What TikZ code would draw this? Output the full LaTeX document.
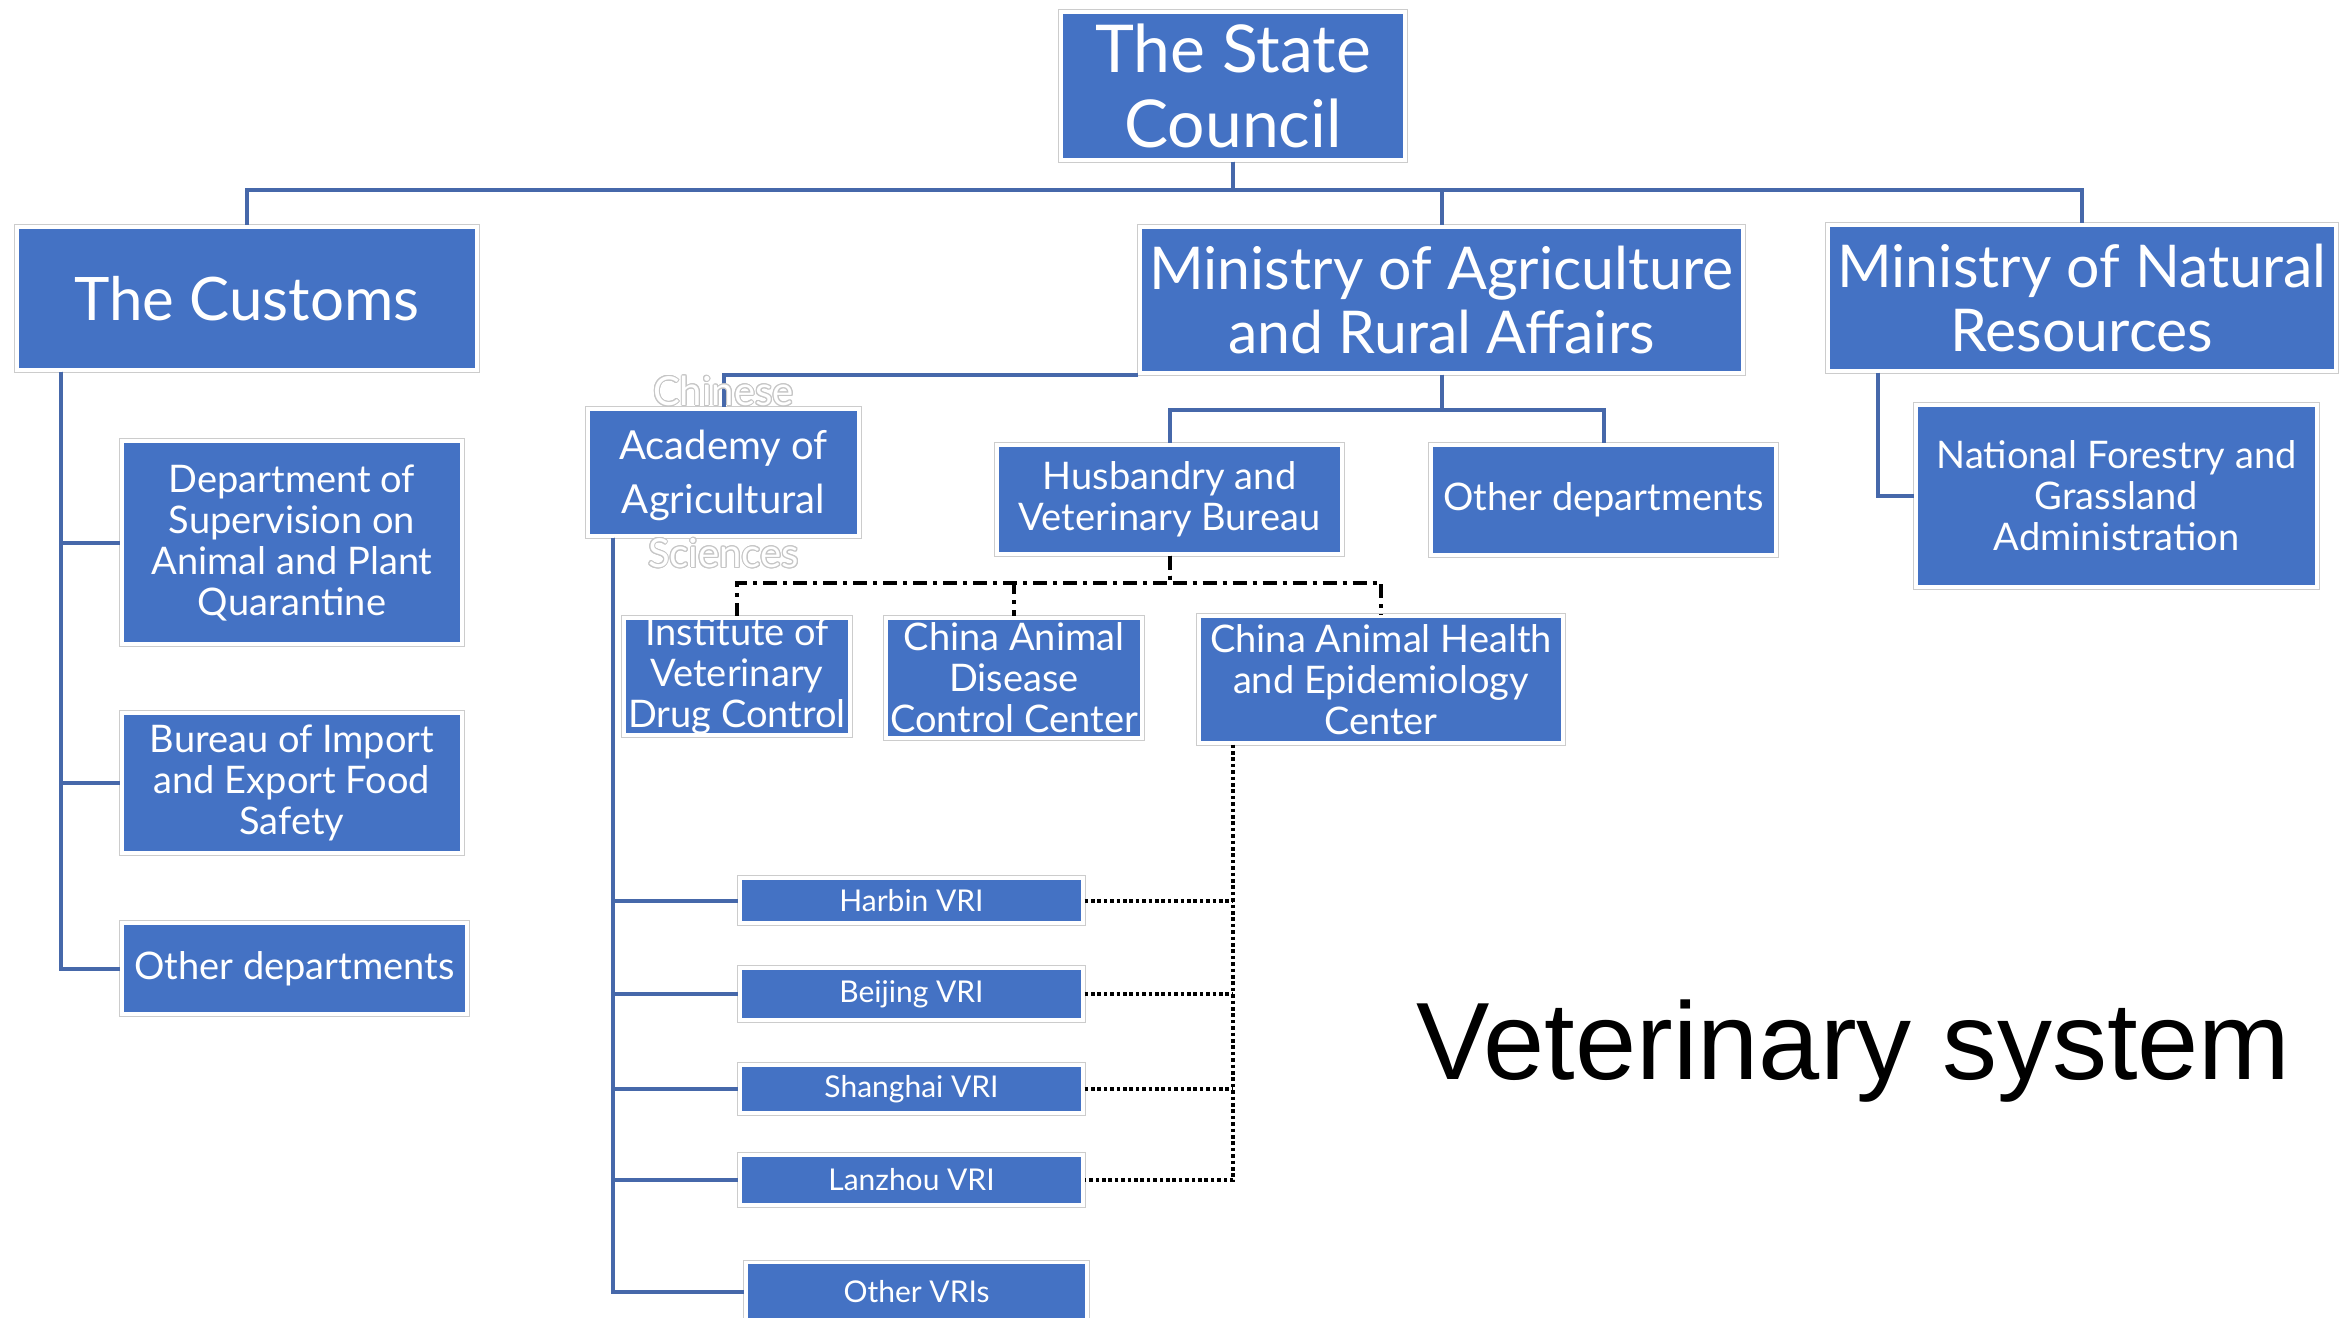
\documentclass[tikz,border=0pt]{standalone}
\usepackage{fontspec}
\setmainfont{Lato}
\newfontfamily\titlefont{Liberation Sans}
\usepackage{contour}
\contourlength{0.5pt}
\usetikzlibrary{positioning,calc}

\definecolor{boxblue}{RGB}{68,114,196}
\definecolor{lineblue}{RGB}{70,104,170}

\tikzset{
	sz/.style 2 args={minimum width=#1*0.5pt, minimum height=#2*0.5pt}
}

\begin{document}
\begin{tikzpicture}[
	x=0.5pt, y=-0.5pt,
	box/.style={rectangle, fill=boxblue, text=white, align=center, inner sep=0,
		preaction={draw=gray!40, line width=3pt},
		draw=white, line width=1.6pt},
	bigtxt/.style={font=\fontsize{29.5}{32}\selectfont},
	midtxt/.style={font=\fontsize{19}{20.5}\selectfont},
	vritxt/.style={font=\fontsize{15}{17}\selectfont},
	orgline/.style={draw=lineblue, line width=2pt},
	dashdotline/.style={draw=black, line width=2pt, dash pattern=on 7pt off 3pt on 2pt off 3pt},
	dotline/.style={draw=black, line width=2pt, dash pattern=on 1.8pt off 1.4pt}
]
	\useasboundingbox (0,0) rectangle (2349,1317);

	% top level
	\node[box,sz={344}{148},font=\fontsize{33}{37.5}\selectfont] (state) at (1233,86) {The State\\Council};
	\node[box,sz={460}{143},font=\fontsize{30}{37}\selectfont] (customs) at (247,298.5) {The Customs};
	\node[box,bigtxt,sz={603}{146}] (mara) at (1441.5,300) {Ministry of Agriculture\\and Rural Affairs};
	\node[box,bigtxt,sz={508}{146}] (mnr) at (2082,298) {Ministry of Natural\\Resources};

	% customs branch
	\node[box,midtxt,sz={340}{203}] (dsaq) at (292,542.5) {Department of\\Supervision on\\Animal and Plant\\Quarantine};
	\node[box,midtxt,sz={340}{140}] (bief) at (292,783) {Bureau of Import\\and Export Food\\Safety};
	\node[box,midtxt,sz={345}{91}] (othcus) at (294.5,968.5) {Other departments};

	% agriculture branch
	\node[box,sz={271}{127}] (caas) at (723.5,472.5) {};
	\node[box,midtxt,sz={345}{109}] (husb) at (1169.5,499.5) {Husbandry and\\Veterinary Bureau};
	\node[box,midtxt,sz={345}{110}] (othmara) at (1603.5,500) {Other departments};
	\node[box,midtxt,sz={226}{117}] (ivdc) at (737,676.5) {Institute of\\Veterinary\\Drug Control};
	\node[box,midtxt,sz={256}{120}] (cadc) at (1014,678) {China Animal\\Disease\\Control Center};
	\node[box,midtxt,sz={364}{127}] (cahec) at (1381,679.5) {China Animal Health\\and Epidemiology\\Center};

	% natural resources branch
	\node[box,midtxt,sz={401}{182}] (nfga) at (2116.5,496) {National Forestry and\\Grassland\\Administration};

	% institutes
	\node[box,vritxt,sz={343}{45}] (harbin) at (911.5,900.5) {Harbin VRI};
	\node[box,vritxt,sz={343}{52}] (beijing) at (911.5,994) {Beijing VRI};
	\node[box,vritxt,sz={343}{48}] (shanghai) at (911.5,1089) {Shanghai VRI};
	\node[box,vritxt,sz={343}{50}] (lanzhou) at (911.5,1180) {Lanzhou VRI};
	\node[box,vritxt,sz={341}{59}] (othvri) at (916.5,1292) {Other VRIs};

	% connectors
	\draw[orgline] (state.south) -- ++(0,28) -| (customs.north);
	\draw[orgline] (state.south) -- ++(0,28) -| (mara.north);
	\draw[orgline] (state.south) -- ++(0,28) -| (mnr.north);

	\coordinate (cusv) at ($(customs.south west)+(46,0)$);
	\draw[orgline] (cusv) |- (dsaq.west);
	\draw[orgline] (cusv) |- (bief.west);
	\draw[orgline] (cusv) |- (othcus.west);

	\draw[orgline] (mara.south west) -| (caas.north);
	\draw[orgline] (mara.south) -- ++(0,35) -| (husb.north);
	\draw[orgline] (mara.south) -- ++(0,35) -| (othmara.north);

	\coordinate (mnrv) at ($(mnr.south west)+(52,0)$);
	\draw[orgline] (mnrv) |- (nfga.west);

	\draw[dashdotline] (husb.south) -- ++(0,27) -| (ivdc.north);
	\draw[dashdotline] (husb.south) -- ++(0,27) -| (cadc.north);
	\draw[dashdotline] (husb.south) -- ++(0,27) -| (cahec.north);

	\coordinate (caasv) at ($(caas.south west)+(27,0)$);
	\foreach \vri in {harbin,beijing,shanghai,lanzhou,othvri}
		\draw[orgline] (caasv) |- (\vri.west);

	\coordinate (cahecv) at ($(cahec.south west)+(36,0)$);
	\draw[dotline] (cahecv) |- (lanzhou.east);
	\foreach \vri in {harbin,beijing,shanghai}
		\draw[dotline] (\vri.east) -- (\vri.east -| cahecv);

	% overflowing label of the academy
	\node[text=white, align=center, inner sep=0, font=\fontsize{20}{27}\selectfont] (caastext) at (caas.center)
		{\contour{gray!45}{Chinese}\\Academy of\\Agricultural\\\contour{gray!45}{Sciences}};

	\node[anchor=base west, inner sep=0, font=\titlefont\fontsize{55}{60}\selectfont] (title) at (1416,1079) {Veterinary system};
\end{tikzpicture}
\end{document}
